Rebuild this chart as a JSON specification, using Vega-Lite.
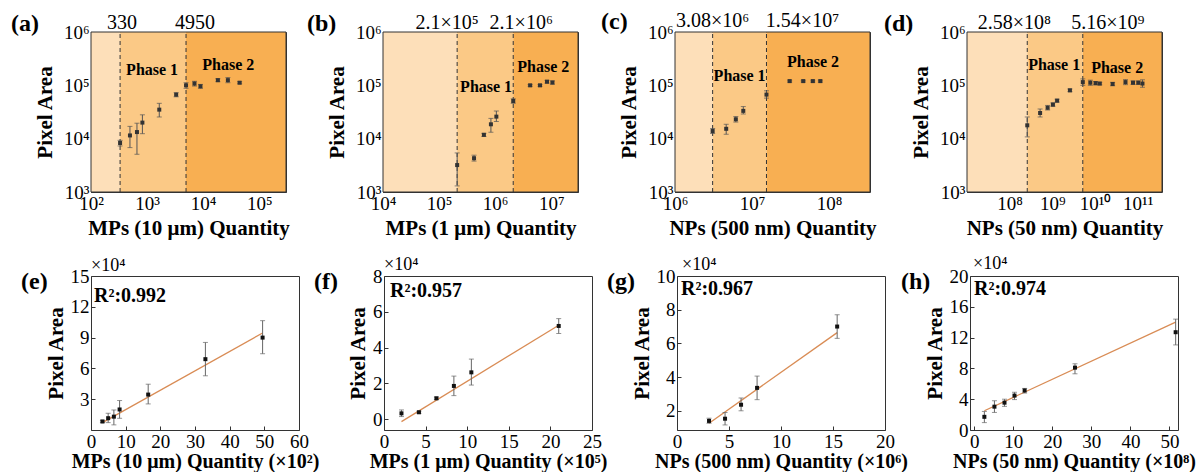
{
"$schema": "https://vega.github.io/schema/vega-lite/v6.json",
"padding": {"left": 10, "top": 9, "right": 0, "bottom": 0},
"background": "white",
"datasets": {
"bandA": [{"x1":100,"x2":330,"z":"0"},{"x1":330,"x2":4950,"z":"1"},{"x1":4950,"x2":300000,"z":"2"}],
"thrA": [{"t":330,"label":"330","k":1},{"t":4950,"label":"4950","k":2}],
"phA": [{"x":1230,"y":155000,"label":"Phase 1"},{"x":28000,"y":190000,"label":"Phase 2"}],
"ptA": [{"x":330,"y":8300,"lo":7300,"hi":9300},{"x":495,"y":11500,"lo":6800,"hi":17000},{"x":660,"y":13300,"lo":5100,"hi":19500},{"x":825,"y":20000,"lo":12400,"hi":28000},{"x":1650,"y":35000,"lo":25500,"hi":46000},{"x":3300,"y":66800,"lo":61000,"hi":73000},{"x":4950,"y":100000,"lo":88000,"hi":112000},{"x":7000,"y":108000,"lo":97000,"hi":119000},{"x":8950,"y":96000,"lo":88000,"hi":104000},{"x":18300,"y":125000,"lo":117000,"hi":133000},{"x":27600,"y":125000,"lo":112000,"hi":140000},{"x":44700,"y":112000,"lo":107000,"hi":117000}],
"bandB": [{"x1":10000,"x2":210000,"z":"0"},{"x1":210000,"x2":2100000,"z":"1"},{"x1":2100000,"x2":30000000,"z":"2"}],
"thrB": [{"t":210000,"label":"2.1×10⁵","k":1},{"t":2100000,"label":"2.1×10⁶","k":2}],
"phB": [{"x":690000,"y":76000,"label":"Phase 1"},{"x":7200000,"y":180000,"label":"Phase 2"}],
"ptB": [{"x":210000,"y":3200,"lo":1300,"hi":5400},{"x":420000,"y":4300,"lo":3800,"hi":4900},{"x":630000,"y":11800,"lo":11000,"hi":12600},{"x":840000,"y":18600,"lo":13200,"hi":24000},{"x":1050000,"y":25900,"lo":21000,"hi":33000},{"x":2100000,"y":50800,"lo":46000,"hi":56000},{"x":4200000,"y":100000,"lo":96000,"hi":104000},{"x":6300000,"y":100000,"lo":96000,"hi":104000},{"x":8400000,"y":117000,"lo":110000,"hi":124000},{"x":10500000,"y":113000,"lo":105000,"hi":121000}],
"bandC": [{"x1":1000000,"x2":3080000,"z":"0"},{"x1":3080000,"x2":15400000,"z":"1"},{"x1":15400000,"x2":340000000,"z":"2"}],
"thrC": [{"t":3080000,"label":"3.08×10⁶","k":1},{"t":15400000,"label":"1.54×10⁷","k":2}],
"phC": [{"x":6900000,"y":118000,"label":"Phase 1"},{"x":62000000,"y":220000,"label":"Phase 2"}],
"ptC": [{"x":3080000,"y":13900,"lo":12500,"hi":15500},{"x":4620000,"y":15300,"lo":12100,"hi":18600},{"x":6160000,"y":23100,"lo":20500,"hi":26000},{"x":7700000,"y":33200,"lo":29000,"hi":40000},{"x":15400000,"y":67000,"lo":57600,"hi":79000},{"x":30800000,"y":120000,"lo":115000,"hi":125000},{"x":46200000,"y":120000,"lo":115000,"hi":125000},{"x":61600000,"y":120000,"lo":115000,"hi":125000},{"x":77000000,"y":120000,"lo":115000,"hi":125000}],
"bandD": [{"x1":10000000,"x2":258000000,"z":"0"},{"x1":258000000,"x2":5160000000,"z":"1"},{"x1":5160000000,"x2":370000000000,"z":"2"}],
"thrD": [{"t":258000000,"label":"2.58×10⁸","k":1},{"t":5160000000,"label":"5.16×10⁹","k":2}],
"phD": [{"x":1100000000,"y":190000,"label":"Phase 1"},{"x":33000000000,"y":174000,"label":"Phase 2"}],
"ptD": [{"x":258000000,"y":17800,"lo":10800,"hi":25500},{"x":516000000,"y":30300,"lo":25500,"hi":36000},{"x":774000000,"y":38000,"lo":34500,"hi":42000},{"x":1030000000,"y":43500,"lo":40500,"hi":47000},{"x":1290000000,"y":51600,"lo":48500,"hi":55000},{"x":2580000000,"y":80600,"lo":76000,"hi":85500},{"x":5160000000,"y":115000,"lo":100000,"hi":132000},{"x":7740000000,"y":112000,"lo":100000,"hi":125000},{"x":10300000000,"y":110000,"lo":102000,"hi":118000},{"x":12900000000,"y":108000,"lo":102000,"hi":114000},{"x":25800000000,"y":106000,"lo":98000,"hi":114000},{"x":51600000000,"y":115000,"lo":103000,"hi":128000},{"x":77400000000,"y":112000,"lo":104000,"hi":121000},{"x":103000000000,"y":112000,"lo":104000,"hi":121000},{"x":129000000000,"y":108000,"lo":92000,"hi":127000}],
"ptE": [{"x":3.3,"y":0.83,"lo":0.72,"hi":0.94},{"x":4.95,"y":1.15,"lo":0.72,"hi":1.63},{"x":6.6,"y":1.3,"lo":0.5,"hi":1.95},{"x":8.25,"y":2.0,"lo":1.14,"hi":2.87},{"x":16.5,"y":3.45,"lo":2.54,"hi":4.46},{"x":33,"y":6.9,"lo":5.28,"hi":8.53},{"x":49.5,"y":9.0,"lo":7.43,"hi":10.65}],
"fitE": [{"x":3.3,"y":0.72},{"x":49.5,"y":9.45}],
"ptF": [{"x":2.1,"y":0.33,"lo":0.15,"hi":0.52},{"x":4.2,"y":0.39,"lo":0.33,"hi":0.45},{"x":6.3,"y":1.17,"lo":1.1,"hi":1.24},{"x":8.4,"y":1.86,"lo":1.32,"hi":2.41},{"x":10.5,"y":2.62,"lo":1.91,"hi":3.36},{"x":21,"y":5.21,"lo":4.79,"hi":5.62}],
"fitF": [{"x":2.1,"y":-0.13},{"x":21,"y":5.25}],
"ptG": [{"x":3.08,"y":1.4,"lo":1.26,"hi":1.56},{"x":4.62,"y":1.53,"lo":1.16,"hi":1.9},{"x":6.16,"y":2.36,"lo":2.0,"hi":2.76},{"x":7.7,"y":3.36,"lo":2.66,"hi":4.06},{"x":15.4,"y":7.0,"lo":6.3,"hi":7.7}],
"fitG": [{"x":3.08,"y":1.26},{"x":15.4,"y":6.64}],
"ptH": [{"x":2.58,"y":1.71,"lo":0.96,"hi":2.41},{"x":5.16,"y":3.03,"lo":2.28,"hi":3.8},{"x":7.74,"y":3.55,"lo":3.07,"hi":4.0},{"x":10.3,"y":4.47,"lo":3.95,"hi":4.9},{"x":12.9,"y":5.13,"lo":4.8,"hi":5.4},{"x":25.8,"y":8.1,"lo":7.3,"hi":8.6},{"x":51.6,"y":12.7,"lo":11.05,"hi":14.4}],
"fitH": [{"x":2.58,"y":2.5},{"x":51.6,"y":14.0}]
},
"columns": 1,
"align": "none",
"spacing": 15,
"concat": [
{"hconcat": [
{"width": 195, "height": 160, "title": {"text": "(a)", "dx": -80, "offset": -23},
 "layer": [
  {"data": {"name": "bandA"}, "mark": "rect", "encoding": {
    "x": {"field": "x1", "type": "quantitative", "scale": {"type": "log", "domain": [100, 300000], "nice": false}, "title": "MPs (10 μm) Quantity",
      "axis": {"values": [100,200,300,400,500,600,700,800,900,1000,2000,3000,4000,5000,6000,7000,8000,9000,10000,20000,30000,40000,50000,60000,70000,80000,90000,100000,200000,300000],
        "labelExpr": "abs(log(datum.value)/LN10 - round(log(datum.value)/LN10)) < 0.001 ? '10' + ['⁰','¹','²','³','⁴','⁵','⁶','⁷','⁸','⁹','¹⁰','¹¹'][round(log(datum.value)/LN10)] : ''",
        "tickSize": {"condition": {"test": "abs(log(datum.value)/LN10 - round(log(datum.value)/LN10)) < 0.001", "value": -5}, "value": -3}, "labelPadding": 7, "titlePadding": 2, "labelOverlap": false, "tickCount": 60}},
    "x2": {"field": "x2"},
    "y": {"datum": 1000, "type": "quantitative", "scale": {"type": "log", "domain": [1000, 1000000], "nice": false}, "title": "Pixel Area",
      "axis": {"values": [1000,2000,3000,4000,5000,6000,7000,8000,9000,10000,20000,30000,40000,50000,60000,70000,80000,90000,100000,200000,300000,400000,500000,600000,700000,800000,900000,1000000],
        "labelExpr": "abs(log(datum.value)/LN10 - round(log(datum.value)/LN10)) < 0.001 ? '10' + ['⁰','¹','²','³','⁴','⁵','⁶','⁷','⁸','⁹','¹⁰','¹¹'][round(log(datum.value)/LN10)] : ''",
        "tickSize": {"condition": {"test": "abs(log(datum.value)/LN10 - round(log(datum.value)/LN10)) < 0.001", "value": -5}, "value": -3}, "labelPadding": 7, "titlePadding": 8, "labelOverlap": false, "tickCount": 60}},
    "y2": {"datum": 1000000},
    "color": {"field": "z", "type": "nominal", "scale": {"domain": ["0","1","2"], "range": ["#FDDFB9","#FBC986","#F8AF52"]}, "legend": null}}},
  {"data": {"name": "thrA"}, "mark": {"type": "rule", "strokeDash": [4,3], "color": "#333"}, "encoding": {"x": {"field": "t", "type": "quantitative"}, "y": {"datum": 1000, "type": "quantitative"}, "y2": {"datum": 1000000}}},
  {"data": {"name": "ptA"}, "mark": {"type": "errorbar", "ticks": true, "color": "#555"}, "encoding": {"x": {"field": "x", "type": "quantitative", "title": "MPs (10 μm) Quantity"}, "y": {"field": "lo", "type": "quantitative", "title": "Pixel Area"}, "y2": {"field": "hi"}}},
  {"data": {"name": "ptA"}, "mark": {"type": "square", "size": 16, "color": "#333", "opacity": 1}, "encoding": {"x": {"field": "x", "type": "quantitative"}, "y": {"field": "y", "type": "quantitative"}}},
  {"data": {"name": "phA"}, "mark": {"type": "text", "fontSize": 16, "fontWeight": "bold", "baseline": "alphabetic"}, "encoding": {"x": {"field": "x", "type": "quantitative"}, "y": {"field": "y", "type": "quantitative"}, "text": {"field": "label"}}},
  {"data": {"name": "thrA"}, "transform": [{"filter": "datum.k == 1"}], "mark": {"type": "text", "fontSize": 20, "baseline": "alphabetic", "dx": 2}, "encoding": {"x": {"field": "t", "type": "quantitative"}, "y": {"datum": 1140000, "type": "quantitative"}, "text": {"field": "label"}}},
  {"data": {"name": "thrA"}, "transform": [{"filter": "datum.k == 2"}], "mark": {"type": "text", "fontSize": 20, "baseline": "alphabetic", "dx": 9}, "encoding": {"x": {"field": "t", "type": "quantitative"}, "y": {"datum": 1140000, "type": "quantitative"}, "text": {"field": "label"}}},
  {"data": {"values": [{}]}, "mark": {"type": "rect", "fillOpacity": 0, "stroke": "#333", "strokeWidth": 1}, "encoding": {"x": {"datum": 100, "type": "quantitative"}, "x2": {"datum": 300000}, "y": {"datum": 1000, "type": "quantitative"}, "y2": {"datum": 1000000}}}
 ]},
{"width": 195, "height": 160, "title": {"text": "(b)", "dx": -76, "offset": -23},
 "layer": [
  {"data": {"name": "bandB"}, "mark": "rect", "encoding": {
    "x": {"field": "x1", "type": "quantitative", "scale": {"type": "log", "domain": [10000, 30000000], "nice": false}, "title": "MPs (1 μm) Quantity",
      "axis": {"values": [1e4,2e4,3e4,4e4,5e4,6e4,7e4,8e4,9e4,1e5,2e5,3e5,4e5,5e5,6e5,7e5,8e5,9e5,1e6,2e6,3e6,4e6,5e6,6e6,7e6,8e6,9e6,1e7,2e7,3e7],
        "labelExpr": "abs(log(datum.value)/LN10 - round(log(datum.value)/LN10)) < 0.001 ? '10' + ['⁰','¹','²','³','⁴','⁵','⁶','⁷','⁸','⁹','¹⁰','¹¹'][round(log(datum.value)/LN10)] : ''",
        "tickSize": {"condition": {"test": "abs(log(datum.value)/LN10 - round(log(datum.value)/LN10)) < 0.001", "value": -5}, "value": -3}, "labelPadding": 7, "titlePadding": 2, "labelOverlap": false, "tickCount": 60}},
    "x2": {"field": "x2"},
    "y": {"datum": 1000, "type": "quantitative", "scale": {"type": "log", "domain": [1000, 1000000], "nice": false}, "title": "Pixel Area",
      "axis": {"values": [1000,2000,3000,4000,5000,6000,7000,8000,9000,10000,20000,30000,40000,50000,60000,70000,80000,90000,100000,200000,300000,400000,500000,600000,700000,800000,900000,1000000],
        "labelExpr": "abs(log(datum.value)/LN10 - round(log(datum.value)/LN10)) < 0.001 ? '10' + ['⁰','¹','²','³','⁴','⁵','⁶','⁷','⁸','⁹','¹⁰','¹¹'][round(log(datum.value)/LN10)] : ''",
        "tickSize": {"condition": {"test": "abs(log(datum.value)/LN10 - round(log(datum.value)/LN10)) < 0.001", "value": -5}, "value": -3}, "labelPadding": 7, "titlePadding": 8, "labelOverlap": false, "tickCount": 60}},
    "y2": {"datum": 1000000},
    "color": {"field": "z", "type": "nominal", "scale": {"domain": ["0","1","2"], "range": ["#FDDFB9","#FBC986","#F8AF52"]}, "legend": null}}},
  {"data": {"name": "thrB"}, "mark": {"type": "rule", "strokeDash": [4,3], "color": "#333"}, "encoding": {"x": {"field": "t", "type": "quantitative"}, "y": {"datum": 1000, "type": "quantitative"}, "y2": {"datum": 1000000}}},
  {"data": {"name": "ptB"}, "mark": {"type": "errorbar", "ticks": true, "color": "#555"}, "encoding": {"x": {"field": "x", "type": "quantitative", "title": "MPs (1 μm) Quantity"}, "y": {"field": "lo", "type": "quantitative", "title": "Pixel Area"}, "y2": {"field": "hi"}}},
  {"data": {"name": "ptB"}, "mark": {"type": "square", "size": 16, "color": "#333", "opacity": 1}, "encoding": {"x": {"field": "x", "type": "quantitative"}, "y": {"field": "y", "type": "quantitative"}}},
  {"data": {"name": "phB"}, "mark": {"type": "text", "fontSize": 16, "fontWeight": "bold", "baseline": "alphabetic"}, "encoding": {"x": {"field": "x", "type": "quantitative"}, "y": {"field": "y", "type": "quantitative"}, "text": {"field": "label"}}},
  {"data": {"name": "thrB"}, "transform": [{"filter": "datum.k == 1"}], "mark": {"type": "text", "fontSize": 20, "baseline": "alphabetic", "dx": -10}, "encoding": {"x": {"field": "t", "type": "quantitative"}, "y": {"datum": 1140000, "type": "quantitative"}, "text": {"field": "label"}}},
  {"data": {"name": "thrB"}, "transform": [{"filter": "datum.k == 2"}], "mark": {"type": "text", "fontSize": 20, "baseline": "alphabetic", "dx": 8}, "encoding": {"x": {"field": "t", "type": "quantitative"}, "y": {"datum": 1140000, "type": "quantitative"}, "text": {"field": "label"}}},
  {"data": {"values": [{}]}, "mark": {"type": "rect", "fillOpacity": 0, "stroke": "#333", "strokeWidth": 1}, "encoding": {"x": {"datum": 10000, "type": "quantitative"}, "x2": {"datum": 30000000}, "y": {"datum": 1000, "type": "quantitative"}, "y2": {"datum": 1000000}}}
 ]},
{"width": 195, "height": 160, "title": {"text": "(c)", "dx": -74, "offset": -23},
 "layer": [
  {"data": {"name": "bandC"}, "mark": "rect", "encoding": {
    "x": {"field": "x1", "type": "quantitative", "scale": {"type": "log", "domain": [1000000, 340000000], "nice": false}, "title": "NPs (500 nm) Quantity",
      "axis": {"values": [1e6,2e6,3e6,4e6,5e6,6e6,7e6,8e6,9e6,1e7,2e7,3e7,4e7,5e7,6e7,7e7,8e7,9e7,1e8,2e8,3e8],
        "labelExpr": "abs(log(datum.value)/LN10 - round(log(datum.value)/LN10)) < 0.001 ? '10' + ['⁰','¹','²','³','⁴','⁵','⁶','⁷','⁸','⁹','¹⁰','¹¹'][round(log(datum.value)/LN10)] : ''",
        "tickSize": {"condition": {"test": "abs(log(datum.value)/LN10 - round(log(datum.value)/LN10)) < 0.001", "value": -5}, "value": -3}, "labelPadding": 7, "titlePadding": 2, "labelOverlap": false, "tickCount": 60}},
    "x2": {"field": "x2"},
    "y": {"datum": 1000, "type": "quantitative", "scale": {"type": "log", "domain": [1000, 1000000], "nice": false}, "title": "Pixel Area",
      "axis": {"values": [1000,2000,3000,4000,5000,6000,7000,8000,9000,10000,20000,30000,40000,50000,60000,70000,80000,90000,100000,200000,300000,400000,500000,600000,700000,800000,900000,1000000],
        "labelExpr": "abs(log(datum.value)/LN10 - round(log(datum.value)/LN10)) < 0.001 ? '10' + ['⁰','¹','²','³','⁴','⁵','⁶','⁷','⁸','⁹','¹⁰','¹¹'][round(log(datum.value)/LN10)] : ''",
        "tickSize": {"condition": {"test": "abs(log(datum.value)/LN10 - round(log(datum.value)/LN10)) < 0.001", "value": -5}, "value": -3}, "labelPadding": 7, "titlePadding": 8, "labelOverlap": false, "tickCount": 60}},
    "y2": {"datum": 1000000},
    "color": {"field": "z", "type": "nominal", "scale": {"domain": ["0","1","2"], "range": ["#FDDFB9","#FBC986","#F8AF52"]}, "legend": null}}},
  {"data": {"name": "thrC"}, "mark": {"type": "rule", "strokeDash": [4,3], "color": "#333"}, "encoding": {"x": {"field": "t", "type": "quantitative"}, "y": {"datum": 1000, "type": "quantitative"}, "y2": {"datum": 1000000}}},
  {"data": {"name": "ptC"}, "mark": {"type": "errorbar", "ticks": true, "color": "#555"}, "encoding": {"x": {"field": "x", "type": "quantitative", "title": "NPs (500 nm) Quantity"}, "y": {"field": "lo", "type": "quantitative", "title": "Pixel Area"}, "y2": {"field": "hi"}}},
  {"data": {"name": "ptC"}, "mark": {"type": "square", "size": 16, "color": "#333", "opacity": 1}, "encoding": {"x": {"field": "x", "type": "quantitative"}, "y": {"field": "y", "type": "quantitative"}}},
  {"data": {"name": "phC"}, "mark": {"type": "text", "fontSize": 16, "fontWeight": "bold", "baseline": "alphabetic"}, "encoding": {"x": {"field": "x", "type": "quantitative"}, "y": {"field": "y", "type": "quantitative"}, "text": {"field": "label"}}},
  {"data": {"name": "thrC"}, "transform": [{"filter": "datum.k == 1"}], "mark": {"type": "text", "fontSize": 20, "baseline": "alphabetic", "dx": 0}, "encoding": {"x": {"field": "t", "type": "quantitative"}, "y": {"datum": 1240000, "type": "quantitative"}, "text": {"field": "label"}}},
  {"data": {"name": "thrC"}, "transform": [{"filter": "datum.k == 2"}], "mark": {"type": "text", "fontSize": 20, "baseline": "alphabetic", "dx": 36}, "encoding": {"x": {"field": "t", "type": "quantitative"}, "y": {"datum": 1240000, "type": "quantitative"}, "text": {"field": "label"}}},
  {"data": {"values": [{}]}, "mark": {"type": "rect", "fillOpacity": 0, "stroke": "#333", "strokeWidth": 1}, "encoding": {"x": {"datum": 1000000, "type": "quantitative"}, "x2": {"datum": 340000000}, "y": {"datum": 1000, "type": "quantitative"}, "y2": {"datum": 1000000}}}
 ]},
{"width": 195, "height": 160, "title": {"text": "(d)", "dx": -83, "offset": -23},
 "layer": [
  {"data": {"name": "bandD"}, "mark": "rect", "encoding": {
    "x": {"field": "x1", "type": "quantitative", "scale": {"type": "log", "domain": [10000000, 370000000000], "nice": false}, "title": "NPs (50 nm) Quantity",
      "axis": {"values": [1e7,2e7,3e7,4e7,5e7,6e7,7e7,8e7,9e7,1e8,2e8,3e8,4e8,5e8,6e8,7e8,8e8,9e8,1e9,2e9,3e9,4e9,5e9,6e9,7e9,8e9,9e9,1e10,2e10,3e10,4e10,5e10,6e10,7e10,8e10,9e10,1e11,2e11,3e11],
        "labelExpr": "datum.value < 50000000 ? '' : (abs(log(datum.value)/LN10 - round(log(datum.value)/LN10)) < 0.001 ? '10' + ['⁰','¹','²','³','⁴','⁵','⁶','⁷','⁸','⁹','¹⁰','¹¹'][round(log(datum.value)/LN10)] : '')",
        "tickSize": {"condition": {"test": "abs(log(datum.value)/LN10 - round(log(datum.value)/LN10)) < 0.001", "value": -5}, "value": -3}, "labelPadding": 7, "titlePadding": 2, "labelOverlap": false, "tickCount": 60}},
    "x2": {"field": "x2"},
    "y": {"datum": 1000, "type": "quantitative", "scale": {"type": "log", "domain": [1000, 1000000], "nice": false}, "title": "Pixel Area",
      "axis": {"values": [1000,2000,3000,4000,5000,6000,7000,8000,9000,10000,20000,30000,40000,50000,60000,70000,80000,90000,100000,200000,300000,400000,500000,600000,700000,800000,900000,1000000],
        "labelExpr": "abs(log(datum.value)/LN10 - round(log(datum.value)/LN10)) < 0.001 ? '10' + ['⁰','¹','²','³','⁴','⁵','⁶','⁷','⁸','⁹','¹⁰','¹¹'][round(log(datum.value)/LN10)] : ''",
        "tickSize": {"condition": {"test": "abs(log(datum.value)/LN10 - round(log(datum.value)/LN10)) < 0.001", "value": -5}, "value": -3}, "labelPadding": 7, "titlePadding": 8, "labelOverlap": false, "tickCount": 60}},
    "y2": {"datum": 1000000},
    "color": {"field": "z", "type": "nominal", "scale": {"domain": ["0","1","2"], "range": ["#FDDFB9","#FBC986","#F8AF52"]}, "legend": null}}},
  {"data": {"name": "thrD"}, "mark": {"type": "rule", "strokeDash": [4,3], "color": "#333"}, "encoding": {"x": {"field": "t", "type": "quantitative"}, "y": {"datum": 1000, "type": "quantitative"}, "y2": {"datum": 1000000}}},
  {"data": {"name": "ptD"}, "mark": {"type": "errorbar", "ticks": true, "color": "#555"}, "encoding": {"x": {"field": "x", "type": "quantitative", "title": "NPs (50 nm) Quantity"}, "y": {"field": "lo", "type": "quantitative", "title": "Pixel Area"}, "y2": {"field": "hi"}}},
  {"data": {"name": "ptD"}, "mark": {"type": "square", "size": 16, "color": "#333", "opacity": 1}, "encoding": {"x": {"field": "x", "type": "quantitative"}, "y": {"field": "y", "type": "quantitative"}}},
  {"data": {"name": "phD"}, "mark": {"type": "text", "fontSize": 16, "fontWeight": "bold", "baseline": "alphabetic"}, "encoding": {"x": {"field": "x", "type": "quantitative"}, "y": {"field": "y", "type": "quantitative"}, "text": {"field": "label"}}},
  {"data": {"name": "thrD"}, "transform": [{"filter": "datum.k == 1"}], "mark": {"type": "text", "fontSize": 20, "baseline": "alphabetic", "dx": -13}, "encoding": {"x": {"field": "t", "type": "quantitative"}, "y": {"datum": 1140000, "type": "quantitative"}, "text": {"field": "label"}}},
  {"data": {"name": "thrD"}, "transform": [{"filter": "datum.k == 2"}], "mark": {"type": "text", "fontSize": 20, "baseline": "alphabetic", "dx": 25}, "encoding": {"x": {"field": "t", "type": "quantitative"}, "y": {"datum": 1140000, "type": "quantitative"}, "text": {"field": "label"}}},
  {"data": {"values": [{}]}, "mark": {"type": "rect", "fillOpacity": 0, "stroke": "#333", "strokeWidth": 1}, "encoding": {"x": {"datum": 10000000, "type": "quantitative"}, "x2": {"datum": 370000000000}, "y": {"datum": 1000, "type": "quantitative"}, "y2": {"datum": 1000000}}}
 ]}
], "spacing": 97, "bounds": "flush"},
{"hconcat": [
{"width": 208, "height": 154,
 "layer": [
  {"data": {"name": "fitE"}, "mark": {"type": "line", "color": "#D98C55", "strokeWidth": 1.3}, "encoding": {
    "x": {"field": "x", "type": "quantitative", "scale": {"domain": [0, 60], "nice": false, "zero": false}, "title": "MPs (10 μm) Quantity (×10²)", "axis": {"values": [0,10,20,30,40,50,60], "format": "d", "tickCount": 60, "tickSize": -4, "labelPadding": 6, "titlePadding": 0, "titleFontSize": 20, "labelOverlap": false}},
    "y": {"field": "y", "type": "quantitative", "scale": {"domain": [0, 15], "nice": false, "zero": false}, "title": "Pixel Area", "axis": {"values": [3,6,9,12,15], "format": "d", "tickCount": 60, "tickSize": -4, "labelPadding": 6, "titlePadding": 4, "labelOverlap": false}}}},
  {"data": {"name": "ptE"}, "mark": {"type": "errorbar", "ticks": true, "color": "#666"}, "encoding": {"x": {"field": "x", "type": "quantitative", "title": "MPs (10 μm) Quantity (×10²)"}, "y": {"field": "lo", "type": "quantitative", "title": "Pixel Area"}, "y2": {"field": "hi"}}},
  {"data": {"name": "ptE"}, "mark": {"type": "square", "size": 16, "color": "#111", "opacity": 1}, "encoding": {"x": {"field": "x", "type": "quantitative"}, "y": {"field": "y", "type": "quantitative"}}},
  {"data": {"values": [{}]}, "mark": {"type": "text", "text": "R²:0.992", "fontSize": 20, "fontWeight": "bold", "align": "left", "baseline": "alphabetic", "dx": 3}, "encoding": {"x": {"datum": 0, "type": "quantitative"}, "y": {"datum": 12.47, "type": "quantitative"}}},
  {"data": {"values": [{}]}, "mark": {"type": "text", "text": "×10⁴", "fontSize": 18, "align": "left", "baseline": "alphabetic", "dx": 0}, "encoding": {"x": {"datum": 0, "type": "quantitative"}, "y": {"datum": 15.5, "type": "quantitative"}}},
  {"data": {"values": [{}]}, "mark": {"type": "text", "text": "(e)", "fontSize": 24, "fontWeight": "bold", "align": "left", "baseline": "middle", "dx": -70, "dy": 6}, "encoding": {"x": {"datum": 0, "type": "quantitative"}, "y": {"datum": 15, "type": "quantitative"}}}
 ]},
{"width": 208, "height": 154,
 "layer": [
  {"data": {"name": "fitF"}, "mark": {"type": "line", "color": "#D98C55", "strokeWidth": 1.3}, "encoding": {
    "x": {"field": "x", "type": "quantitative", "scale": {"domain": [0, 25], "nice": false, "zero": false}, "title": "MPs (1 μm) Quantity (×10⁵)", "axis": {"values": [0,5,10,15,20,25], "format": "d", "tickCount": 60, "tickSize": -4, "labelPadding": 6, "titlePadding": 0, "titleFontSize": 20, "labelOverlap": false}},
    "y": {"field": "y", "type": "quantitative", "scale": {"domain": [-0.6, 8], "nice": false, "zero": false}, "title": "Pixel Area", "axis": {"values": [0,2,4,6,8], "format": "d", "tickCount": 60, "tickSize": -4, "labelPadding": 6, "titlePadding": 4, "labelOverlap": false}}}},
  {"data": {"name": "ptF"}, "mark": {"type": "errorbar", "ticks": true, "color": "#666"}, "encoding": {"x": {"field": "x", "type": "quantitative", "title": "MPs (1 μm) Quantity (×10⁵)"}, "y": {"field": "lo", "type": "quantitative", "title": "Pixel Area"}, "y2": {"field": "hi"}}},
  {"data": {"name": "ptF"}, "mark": {"type": "square", "size": 16, "color": "#111", "opacity": 1}, "encoding": {"x": {"field": "x", "type": "quantitative"}, "y": {"field": "y", "type": "quantitative"}}},
  {"data": {"values": [{}]}, "mark": {"type": "text", "text": "R²:0.957", "fontSize": 20, "fontWeight": "bold", "align": "left", "baseline": "alphabetic", "dx": 6}, "encoding": {"x": {"datum": 0, "type": "quantitative"}, "y": {"datum": 6.83, "type": "quantitative"}}},
  {"data": {"values": [{}]}, "mark": {"type": "text", "text": "×10⁴", "fontSize": 18, "align": "left", "baseline": "alphabetic", "dx": 0}, "encoding": {"x": {"datum": 0, "type": "quantitative"}, "y": {"datum": 8.33, "type": "quantitative"}}},
  {"data": {"values": [{}]}, "mark": {"type": "text", "text": "(f)", "fontSize": 24, "fontWeight": "bold", "align": "left", "baseline": "middle", "dx": -70, "dy": 6}, "encoding": {"x": {"datum": 0, "type": "quantitative"}, "y": {"datum": 8, "type": "quantitative"}}}
 ]},
{"width": 208, "height": 154,
 "layer": [
  {"data": {"name": "fitG"}, "mark": {"type": "line", "color": "#D98C55", "strokeWidth": 1.3}, "encoding": {
    "x": {"field": "x", "type": "quantitative", "scale": {"domain": [0, 20], "nice": false, "zero": false}, "title": "NPs (500 nm) Quantity (×10⁶)", "axis": {"values": [0,5,10,15,20], "format": "d", "tickCount": 60, "tickSize": -4, "labelPadding": 6, "titlePadding": 0, "titleFontSize": 20, "labelOverlap": false}},
    "y": {"field": "y", "type": "quantitative", "scale": {"domain": [0.86, 10], "nice": false, "zero": false}, "title": "Pixel Area", "axis": {"values": [2,4,6,8,10], "format": "d", "tickCount": 60, "tickSize": -4, "labelPadding": 6, "titlePadding": 4, "labelOverlap": false}}}},
  {"data": {"name": "ptG"}, "mark": {"type": "errorbar", "ticks": true, "color": "#666"}, "encoding": {"x": {"field": "x", "type": "quantitative", "title": "NPs (500 nm) Quantity (×10⁶)"}, "y": {"field": "lo", "type": "quantitative", "title": "Pixel Area"}, "y2": {"field": "hi"}}},
  {"data": {"name": "ptG"}, "mark": {"type": "square", "size": 16, "color": "#111", "opacity": 1}, "encoding": {"x": {"field": "x", "type": "quantitative"}, "y": {"field": "y", "type": "quantitative"}}},
  {"data": {"values": [{}]}, "mark": {"type": "text", "text": "R²:0.967", "fontSize": 20, "fontWeight": "bold", "align": "left", "baseline": "alphabetic", "dx": 4}, "encoding": {"x": {"datum": 0, "type": "quantitative"}, "y": {"datum": 8.86, "type": "quantitative"}}},
  {"data": {"values": [{}]}, "mark": {"type": "text", "text": "×10⁴", "fontSize": 18, "align": "left", "baseline": "alphabetic", "dx": 5}, "encoding": {"x": {"datum": 0, "type": "quantitative"}, "y": {"datum": 10.36, "type": "quantitative"}}},
  {"data": {"values": [{}]}, "mark": {"type": "text", "text": "(g)", "fontSize": 24, "fontWeight": "bold", "align": "left", "baseline": "middle", "dx": -70, "dy": 6}, "encoding": {"x": {"datum": 0, "type": "quantitative"}, "y": {"datum": 10, "type": "quantitative"}}}
 ]},
{"width": 208, "height": 154,
 "layer": [
  {"data": {"name": "fitH"}, "mark": {"type": "line", "color": "#D98C55", "strokeWidth": 1.3}, "encoding": {
    "x": {"field": "x", "type": "quantitative", "scale": {"domain": [-1.1, 52.2], "nice": false, "zero": false}, "title": "NPs (50 nm) Quantity (×10⁸)", "axis": {"values": [0,10,20,30,40,50], "format": "d", "tickCount": 60, "tickSize": -4, "labelPadding": 6, "titlePadding": 0, "titleFontSize": 20, "labelOverlap": false}},
    "y": {"field": "y", "type": "quantitative", "scale": {"domain": [0, 20], "nice": false, "zero": false}, "title": "Pixel Area", "axis": {"values": [0,4,8,12,16,20], "format": "d", "tickCount": 60, "tickSize": -4, "labelPadding": 6, "titlePadding": 4, "labelOverlap": false}}}},
  {"data": {"name": "ptH"}, "mark": {"type": "errorbar", "ticks": true, "color": "#666"}, "encoding": {"x": {"field": "x", "type": "quantitative", "title": "NPs (50 nm) Quantity (×10⁸)"}, "y": {"field": "lo", "type": "quantitative", "title": "Pixel Area"}, "y2": {"field": "hi"}}},
  {"data": {"name": "ptH"}, "mark": {"type": "square", "size": 16, "color": "#111", "opacity": 1}, "encoding": {"x": {"field": "x", "type": "quantitative"}, "y": {"field": "y", "type": "quantitative"}}},
  {"data": {"values": [{}]}, "mark": {"type": "text", "text": "R²:0.974", "fontSize": 20, "fontWeight": "bold", "align": "left", "baseline": "alphabetic", "dx": 4}, "encoding": {"x": {"datum": -1.1, "type": "quantitative"}, "y": {"datum": 17.5, "type": "quantitative"}}},
  {"data": {"values": [{}]}, "mark": {"type": "text", "text": "×10⁴", "fontSize": 18, "align": "left", "baseline": "alphabetic", "dx": 3}, "encoding": {"x": {"datum": -1.1, "type": "quantitative"}, "y": {"datum": 20.92, "type": "quantitative"}}},
  {"data": {"values": [{}]}, "mark": {"type": "text", "text": "(h)", "fontSize": 24, "fontWeight": "bold", "align": "left", "baseline": "middle", "dx": -69, "dy": 6}, "encoding": {"x": {"datum": -1.1, "type": "quantitative"}, "y": {"datum": 20, "type": "quantitative"}}}
 ]}
], "spacing": 85, "bounds": "flush"}
],
"config": {
 "font": "Liberation Serif",
 "view": {"stroke": "#333", "strokeWidth": 1},
 "axis": {"labelFont": "Liberation Serif", "labelFontSize": 19, "labelColor": "#000", "titleFont": "Liberation Serif", "titleFontSize": 21, "titleFontWeight": "bold", "titleColor": "#000", "grid": false, "domain": false, "tickColor": "#333", "labelFlush": false, "labelOverlap": false},
 "title": {"font": "Liberation Serif", "fontSize": 24, "fontWeight": "bold", "color": "#000", "anchor": "start", "frame": "group", "baseline": "bottom"},
 "mark": {"font": "Liberation Serif", "color": "#000"}
}
}
